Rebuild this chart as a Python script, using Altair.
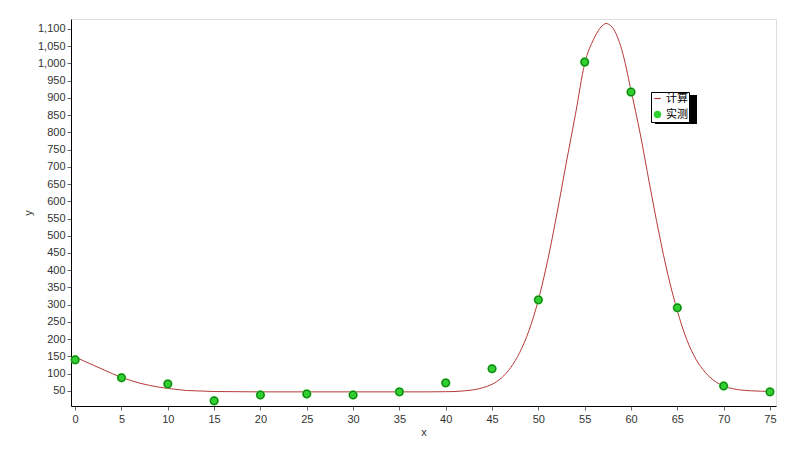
import altair as alt
import pandas as pd

# measured points
obs_x = [0, 5, 10, 15, 20, 25, 30, 35, 40, 45, 50, 55, 60, 65, 70, 75]
obs_y = [140, 88, 70, 21, 38, 41, 38, 47, 73, 114, 314, 1004, 917, 291, 64, 47]

# fitted curve
fit_x = [0, 1, 2, 3, 4, 5, 6, 7, 8, 9, 10, 11, 12, 13, 14, 15, 20, 25, 30, 35, 38,
         40, 41, 42, 43, 44, 45, 46, 47, 48, 49, 50, 51, 52, 53, 54, 55, 56, 57,
         57.3, 58, 59, 60, 61, 62, 63, 64, 65, 66, 67, 68, 69, 70, 71, 72, 73, 74, 75]
fit_y = [148, 136, 124, 112, 100, 89, 80, 72, 66, 61, 57, 54, 51, 50, 49, 48, 47, 47, 47, 47, 47,
         47.5, 48, 50, 53, 59, 69, 87, 117, 162, 226, 314, 428, 564, 710, 852, 1000, 1072, 1112,
         1116, 1104, 1040, 922, 795, 650, 510, 385, 282, 200, 142, 104, 79, 64, 56, 52, 50, 49, 48]

series_names = ["计算", "实测"]
line_color = "#b53a3a"
point_fill = "#2ed12e"
point_stroke = "#1a6b1a"

obs = pd.DataFrame({"x": obs_x, "y": obs_y, "series": "实测"})
fit = pd.DataFrame({"x": fit_x, "y": fit_y})

x_ticks = list(range(0, 80, 5))
y_ticks = list(range(50, 1150, 50))

xs = alt.Scale(domain=[-0.45, 75.65], nice=False, zero=False)
ys = alt.Scale(domain=[6, 1129], nice=False, zero=False)

x_axis = alt.Axis(title="x", values=x_ticks, format="d", grid=False, labelFontSize=11,
                  titleFontSize=11, titleFontWeight="normal", titlePadding=2,
                  labelColor="#333333", titleColor="#333333", tickColor="#666666",
                  domainColor="#000000", tickSize=4, labelPadding=3, labelOverlap=False)
y_axis = alt.Axis(title="y", values=y_ticks, format=",d", grid=False, labelFontSize=11,
                  titleFontSize=11, titleFontWeight="normal", titlePadding=4,
                  labelColor="#333333", titleColor="#333333", tickColor="#666666",
                  domainColor="#000000", tickSize=4, labelPadding=2, labelOverlap=False)

X = alt.X("x:Q", scale=xs, axis=x_axis)
Y = alt.Y("y:Q", scale=ys, axis=y_axis)

shadow = alt.Chart(pd.DataFrame({"a": [0]})).mark_rect(color="#000000").encode(
    x=alt.value(584), x2=alt.value(626), y=alt.value(76), y2=alt.value(105)
)

line = alt.Chart(fit).mark_line(color=line_color, strokeWidth=1, interpolate="monotone").encode(
    x=X, y=Y,
)

leg_scale_c = alt.Scale(domain=series_names, range=[line_color, point_fill])
legend = alt.Legend(
    title=None, orient="none", legendX=580, legendY=73,
    fillColor="#ffffff", strokeColor="#000000", padding=1,
    rowPadding=4, labelFontSize=11, labelFont="Noto Sans CJK SC",
    labelColor="#000000", symbolSize=40, labelOffset=3, symbolStrokeWidth=1.2,
)

points_legend = alt.Chart(obs).mark_point(filled=True, size=55, opacity=1).encode(
    x=X, y=Y,
    color=alt.Color("series:N", scale=leg_scale_c, legend=legend),
    stroke=alt.Stroke("series:N", scale=leg_scale_c, legend=legend),
    shape=alt.Shape("series:N",
                    scale=alt.Scale(domain=series_names, range=["stroke", "circle"]),
                    legend=legend),
)

points = alt.Chart(obs).mark_point(filled=True, size=55, fill=point_fill, stroke=point_stroke,
                                   strokeWidth=1, opacity=1).encode(
    x=X, y=Y,
)

chart = alt.layer(shadow, line, points_legend, points).properties(
    width=705, height=387,
    autosize=alt.AutoSizeParams(type="none"),
    padding={"left": 63, "top": 11, "right": 16, "bottom": 36},
).configure_view(stroke="#404040", strokeWidth=1).configure(
    font="Liberation Sans"
)

chart.save("out.html", embed_options={"renderer": "svg", "actions": False})
